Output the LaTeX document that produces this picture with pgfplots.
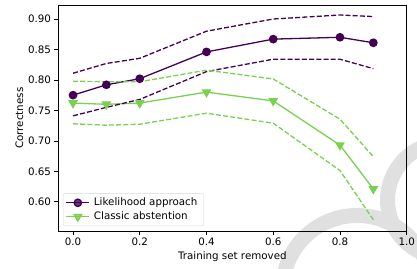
\documentclass[border=0pt]{standalone}
\usepackage{pgfplots}
\pgfplotsset{compat=1.18}
\usepackage{fontspec}
\setmainfont{DejaVu Sans}
\usetikzlibrary{calc}
\definecolor{vpurple}{HTML}{440154}
\definecolor{vgreen}{HTML}{7AD151}
\begin{document}
\begin{tikzpicture}
% light grey watermark rings behind the chart
\draw[black!12, line width=15pt] (299pt,-59pt) circle (74.5pt);
\draw[black!12, line width=15pt] (387pt,31pt) circle (57.5pt);
\begin{axis}[name=ax, at={(0,0)}, anchor=south west,
  scale only axis, width=348.7pt, height=226pt,
  xmin=-0.045, xmax=1.0, ymin=0.552, ymax=0.923,
  xtick={0,0.2,0.4,0.6,0.8,1.0},
  ytick={0.60,0.65,0.70,0.75,0.80,0.85,0.90},
  xticklabel style={/pgf/number format/.cd,fixed,fixed zerofill,precision=1},
  yticklabel style={/pgf/number format/.cd,fixed,fixed zerofill,precision=2},
  /pgf/number format/assume math mode=true,
  tick align=outside, tick pos=left, major tick length=3.5pt,
  tick style={black, line width=0.6pt},
  axis line style={line width=0.6pt},
  font=\fontsize{10.3}{12}\selectfont,
  ticklabel style={font=\fontsize{10.3}{12}\selectfont},
  xlabel={Training set removed}, ylabel={Correctness},
  xlabel style={yshift=1pt}, ylabel style={yshift=-2pt},
  legend style={at={(0,0)}, anchor=south west, xshift=5pt, yshift=5pt,
    draw=black!15, rounded corners=2pt, fill=white, fill opacity=0.8, text opacity=1,
    font=\fontsize{10.3}{12}\selectfont, row sep=0.5pt, inner sep=2.5pt,
    nodes={inner xsep=4pt}},
  legend cell align=left,
  legend image code/.code={\draw[#1] (0pt,0pt) -- (23pt,0pt); \draw[#1, mark repeat=2, mark phase=2] plot coordinates {(0pt,0pt) (11.5pt,0pt) (23pt,0pt)};},
]
\addplot[vpurple, line width=1.3pt, mark=*, mark size=3.7pt, mark options={solid}] coordinates {
(0,0.775) (0.1,0.792) (0.2,0.802) (0.4,0.846) (0.6,0.867) (0.8,0.870) (0.9,0.861)};
\addlegendentry{Likelihood approach}
\addplot[vgreen, line width=1.3pt, mark=triangle*, mark size=4.4pt, mark options={solid, rotate=180}] coordinates {
(0,0.762) (0.1,0.760) (0.2,0.762) (0.4,0.780) (0.6,0.7656) (0.8,0.693) (0.9,0.621)};
\addlegendentry{Classic abstention}
\addplot[vpurple, line width=1.3pt, dash pattern=on 5pt off 2.2pt, forget plot] coordinates {
(0,0.811) (0.1,0.827) (0.2,0.8355) (0.4,0.880) (0.6,0.900) (0.8,0.9066) (0.9,0.904)};
\addplot[vpurple, line width=1.3pt, dash pattern=on 5pt off 2.2pt, forget plot] coordinates {
(0,0.741) (0.1,0.755) (0.2,0.768) (0.4,0.8137) (0.6,0.834) (0.8,0.834) (0.9,0.8185)};
\addplot[vgreen, line width=1.3pt, dash pattern=on 5pt off 2.2pt, forget plot] coordinates {
(0,0.798) (0.1,0.797) (0.2,0.797) (0.4,0.816) (0.6,0.8016) (0.8,0.7356) (0.9,0.674)};
\addplot[vgreen, line width=1.3pt, dash pattern=on 5pt off 2.2pt, forget plot] coordinates {
(0,0.728) (0.1,0.7257) (0.2,0.7273) (0.4,0.7454) (0.6,0.729) (0.8,0.6513) (0.9,0.5705)};
\end{axis}
\pgfresetboundingbox
\path[use as bounding box] ($(ax.south west)+(-58pt,-37pt)$) rectangle ($(ax.north east)+(10.3pt,5pt)$);
\end{tikzpicture}
\end{document}
